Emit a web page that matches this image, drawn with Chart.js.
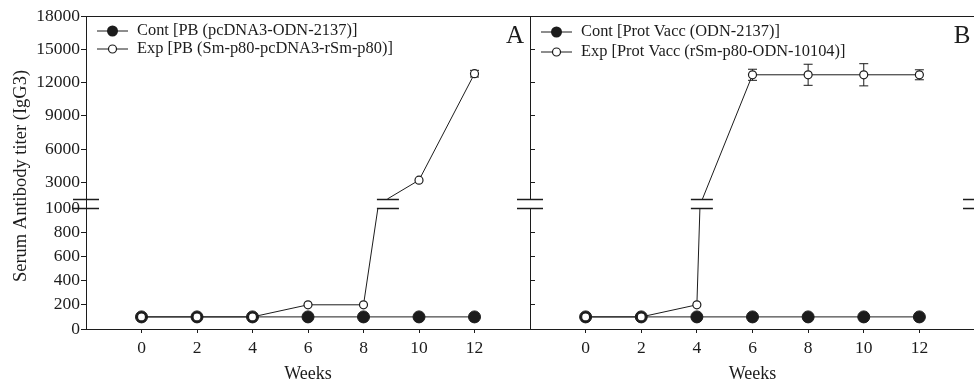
<!DOCTYPE html>
<html>
<head>
<meta charset="utf-8">
<script src="https://cdn.jsdelivr.net/npm/chart.js@4.4.0/dist/chart.umd.min.js"></script>
<style>
  html, body { margin: 0; padding: 0; background: #fff; width: 974px; height: 387px; overflow: hidden; position: relative; }
  canvas { position: absolute; top: 0; }
  #cA { left: 0; }
  #cB { left: 510px; }
</style>
</head>
<body>
<canvas id="cA" width="550" height="387"></canvas>
<canvas id="cB" width="476" height="387"></canvas>
<script>
// serum IgG3 titer, two panels with a broken y axis (0-1000 / 1500-18000)

const weeks = [0, 2, 4, 6, 8, 10, 12];
const weekTicks = [0, 2, 4, 6, 8, 10, 12];
const lowTicks = [0, 200, 400, 600, 800, 1000];
const highTicks = [3000, 6000, 9000, 12000, 15000, 18000];

const contA = [100, 100, 100, 100, 100, 100, 100];
const expA = [100, 100, 100, 200, 200, 3200, 12800];
const expAErr = [0, 0, 0, 0, 0, 0, 300];

const contB = [100, 100, 100, 100, 100, 100, 100];
const expB = [100, 100, 200, 12700, 12700, 12700, 12700];
const expBErr = [0, 0, 0, 500, 950, 1000, 450];

// week where the Exp line meets the break (below it / above it)
const breakA = [8.52, 8.86];
const breakB = [4.11, 4.2];

const legendA = ['Cont [PB (pcDNA3-ODN-2137)]', 'Exp [PB (Sm-p80-pcDNA3-rSm-p80)]'];
const legendB = ['Cont [Prot Vacc (ODN-2137)]', 'Exp [Prot Vacc (rSm-p80-ODN-10104)]'];

const LOW_MAX = 1000, HIGH_MIN = 1500, HIGH_MAX = 18000;
const INK = '#1c1c1c';
const FONT = "'Liberation Serif', 'Times New Roman', serif";

function split(vals, errs, brk) {
  const low = [], high = [];
  vals.forEach((v, i) => {
    const p = { x: weeks[i], y: v, err: errs[i] };
    (v <= LOW_MAX ? low : high).push(p);
  });
  low.push({ x: brk[0], y: LOW_MAX, gap: true });
  high.unshift({ x: brk[1], y: HIGH_MIN, gap: true });
  return { low, high };
}

function datasets(cont, exp, errs, brk) {
  const s = split(exp, errs, brk);
  const expStyle = {
    borderColor: INK, borderWidth: 1,
    pointBackgroundColor: '#fff', pointBorderColor: INK, pointBorderWidth: 1.2,
    pointRadius: (c) => (c.raw && c.raw.gap ? 0 : 4),
    order: 0,
  };
  return [
    {
      label: 'cont', yAxisID: 'yLow',
      data: weeks.map((w, i) => ({ x: w, y: cont[i] })),
      borderColor: INK, borderWidth: 1,
      pointBackgroundColor: INK, pointBorderColor: INK, pointRadius: 6,
      order: 1,
    },
    { label: 'expLow', yAxisID: 'yLow', data: s.low, ...expStyle },
    { label: 'expHigh', yAxisID: 'yHigh', data: s.high, ...expStyle },
  ];
}

function scales(isA) {
  const tickFont = { family: FONT, size: 17.5 };
  const yCommon = {
    type: 'linear', position: 'left', stack: 'v',
    afterFit: (s) => { s.width = isA ? 86 : 20; },
    border: { color: INK, width: 1 },
    grid: { drawOnChartArea: false, drawTicks: true, tickLength: isA ? 5 : -5, color: INK },
    ticks: { display: isA, autoSkip: false, color: INK, font: tickFont, padding: 1, callback: (v) => String(v) },
  };
  return {
    x: {
      type: 'linear', min: -2, max: 14,
      afterBuildTicks: (s) => { s.ticks = weekTicks.map((v) => ({ value: v })); },
      afterFit: (s) => { s.height = 58; },
      border: { color: INK, width: 1 },
      grid: { drawOnChartArea: false, tickLength: 4, color: INK },
      ticks: { autoSkip: false, color: INK, font: tickFont, padding: 5, callback: (v) => String(v) },
      title: { display: true, text: 'Weeks', color: INK, font: { family: FONT, size: 18 }, padding: { top: 0, bottom: 2 } },
    },
    yLow: {
      ...yCommon, min: 0, max: LOW_MAX, stackWeight: 121,
      afterBuildTicks: (s) => { s.ticks = lowTicks.map((v) => ({ value: v })); },
    },
    yGap: {
      ...yCommon, min: 0, max: 1, stackWeight: 9,
      border: { display: isA, color: INK, width: 1 },
      grid: { display: false },
      ticks: { display: false },
    },
    yHigh: {
      ...yCommon, min: HIGH_MIN, max: HIGH_MAX, stackWeight: 183,
      afterBuildTicks: (s) => { s.ticks = highTicks.map((v) => ({ value: v })); },
    },
  };
}

// error bars, frame, break marks, legend, panel letter
const decor = {
  id: 'decor',
  beforeDatasetsDraw(chart) {
    const ctx = chart.ctx;
    ctx.save();
    ctx.strokeStyle = INK;
    ctx.lineWidth = 1;
    chart.data.datasets.forEach((ds, di) => {
      const meta = chart.getDatasetMeta(di);
      const ys = chart.scales[ds.yAxisID];
      ds.data.forEach((p, i) => {
        if (!p.err) return;
        const x = meta.data[i].x;
        const t = ys.getPixelForValue(p.y + p.err);
        const b = ys.getPixelForValue(p.y - p.err);
        ctx.beginPath();
        ctx.moveTo(x, t); ctx.lineTo(x, b);
        ctx.moveTo(x - 4.5, t); ctx.lineTo(x + 4.5, t);
        ctx.moveTo(x - 4.5, b); ctx.lineTo(x + 4.5, b);
        ctx.stroke();
      });
    });
    ctx.restore();
  },
  afterDraw(chart, args, o) {
    const { ctx, chartArea: a, scales: sc } = chart;
    const yUp = Math.round(sc.yHigh.bottom) + 0.5;
    const yDn = Math.round(sc.yLow.top) + 0.5;
    ctx.save();
    ctx.strokeStyle = INK;
    ctx.lineWidth = 1;
    ctx.beginPath();
    ctx.moveTo(a.left, a.top + 0.5); ctx.lineTo(a.right, a.top + 0.5);
    ctx.stroke();

    ctx.lineWidth = 1.5;
    const marks = (xc, half) => {
      ctx.beginPath();
      ctx.moveTo(xc - half, yUp); ctx.lineTo(xc + half, yUp);
      ctx.moveTo(xc - half, yDn); ctx.lineTo(xc + half, yDn);
      ctx.stroke();
    };
    marks(a.left, 13);
    if (o.rightMarks) marks(a.right, 12);
    marks(sc.x.getPixelForValue(o.dataBreak), 11);

    // legend
    ctx.lineWidth = 1;
    ctx.font = `16.4px ${FONT}`;
    ctx.textBaseline = 'middle';
    ctx.fillStyle = INK;
    o.legend.forEach((txt, i) => {
      const y = a.top + o.rows[i];
      const x0 = a.left + 11;
      ctx.beginPath();
      ctx.moveTo(x0, y); ctx.lineTo(x0 + 31, y);
      ctx.stroke();
      ctx.beginPath();
      if (i === 0) {
        ctx.arc(x0 + 15.5, y, 5.5, 0, Math.PI * 2);
        ctx.fillStyle = INK; ctx.fill();
      } else {
        ctx.arc(x0 + 15.5, y, 4, 0, Math.PI * 2);
        ctx.fillStyle = '#fff'; ctx.fill();
        ctx.lineWidth = 1.2; ctx.stroke(); ctx.lineWidth = 1;
      }
      ctx.fillStyle = INK;
      ctx.textAlign = 'left';
      ctx.fillText(txt, x0 + 40, y);
    });

    ctx.font = `25px ${FONT}`;
    ctx.textAlign = 'center';
    ctx.fillText(o.letter, a.right - o.letterDx, a.top + 20);

    if (o.yTitle) {
      ctx.save();
      ctx.translate(21, 176);
      ctx.rotate(-Math.PI / 2);
      ctx.font = `18.5px ${FONT}`;
      ctx.fillText(o.yTitle, 0, 0);
      ctx.restore();
    }
    ctx.restore();
  },
};

function makeChart(id, isA, cont, exp, errs, brk, opts) {
  return new Chart(document.getElementById(id), {
    type: 'line',
    data: { datasets: datasets(cont, exp, errs, brk) },
    plugins: [decor],
    options: {
      responsive: false,
      animation: false,
      parsing: false,
      layout: { padding: isA ? { left: 0, right: 20, top: 16, bottom: 0 } : { left: 0, right: 11, top: 16, bottom: 0 } },
      scales: scales(isA),
      plugins: {
        legend: { display: false },
        tooltip: { enabled: false },
        decor: opts,
      },
    },
  });
}

makeChart('cA', true, contA, expA, expAErr, breakA, {
  legend: legendA, rows: [15, 33], letter: 'A', letterDx: 15,
  rightMarks: false, dataBreak: 8.88,
  yTitle: 'Serum Antibody titer (IgG3)',
});
makeChart('cB', false, contB, expB, expBErr, breakB, {
  legend: legendB, rows: [16, 36], letter: 'B', letterDx: 13,
  rightMarks: true, dataBreak: 4.18,
});
</script>
</body>
</html>
